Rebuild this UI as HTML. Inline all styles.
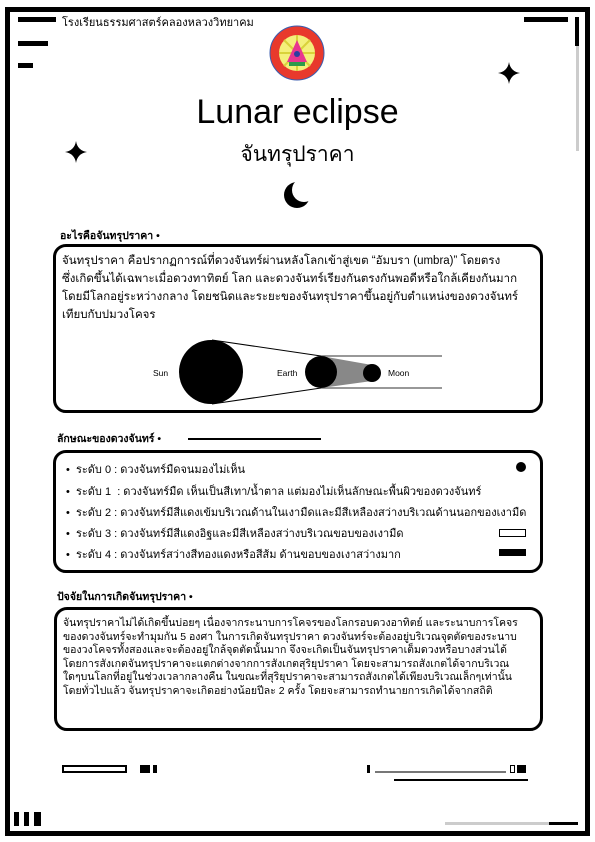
<!DOCTYPE html>
<html><head><meta charset="utf-8">
<style>
html,body{margin:0;padding:0;background:#fff}
body{width:595px;height:842px;position:relative;overflow:hidden;font-family:"Liberation Sans","Noto Sans CJK SC",sans-serif;color:#000}
.a{position:absolute}
.blk{position:absolute;background:#000}
.box{position:absolute;border:3px solid #000;border-radius:13px;box-sizing:border-box}
.t{position:absolute;white-space:nowrap}
.h{position:absolute;white-space:nowrap;font-weight:bold;font-size:10.5px}
.p1{font-size:11.5px;line-height:18px}
.p3{font-size:10.5px;line-height:13.6px}
.li{position:absolute;white-space:nowrap;font-size:11px;left:66px}
</style></head><body>
<div class="a" style="left:5px;top:7px;width:585px;height:829px;border:5px solid #000;box-sizing:border-box"></div>

<div class="blk" style="left:18px;top:17px;width:38px;height:5px"></div>
<div class="blk" style="left:18px;top:41px;width:30px;height:5px"></div>
<div class="blk" style="left:18px;top:63px;width:15px;height:5px"></div>
<div class="t" style="left:62px;top:13px;font-size:11px">โรงเรียนธรรมศาสตร์คลองหลวงวิทยาคม</div>
<div class="blk" style="left:524px;top:17px;width:44px;height:5px"></div>
<div class="a" style="left:576px;top:45px;width:3px;height:106px;background:#ccc"></div>
<div class="blk" style="left:575px;top:17px;width:4px;height:29px"></div>

<svg class="a" style="left:269px;top:25px" width="56" height="56" viewBox="0 0 56 56">
<circle cx="28" cy="28" r="27" fill="#e8392c" stroke="#3a5db0" stroke-width="1"/>
<circle cx="28" cy="28" r="18" fill="#f4f07a"/>
<g stroke="#d9d23a" stroke-width="2"><line x1="28" y1="10" x2="28" y2="46"/><line x1="10" y1="28" x2="46" y2="28"/><line x1="15" y1="15" x2="41" y2="41"/><line x1="41" y1="15" x2="15" y2="41"/></g>
<polygon points="28,15 38,37 18,37" fill="#e8368f"/>
<rect x="20" y="37" width="16" height="4" fill="#2d9a4a"/>
<circle cx="28" cy="29" r="3" fill="#2b3fa0"/>
</svg>

<svg class="a" style="left:498px;top:62px" width="22" height="22" viewBox="0 0 22 22"><path d="M11 0 Q12.5 9.5 22 11 Q12.5 12.5 11 22 Q9.5 12.5 0 11 Q9.5 9.5 11 0Z"/></svg>
<svg class="a" style="left:65px;top:141px" width="22" height="22" viewBox="0 0 22 22"><path d="M11 0 Q12.5 9.5 22 11 Q12.5 12.5 11 22 Q9.5 12.5 0 11 Q9.5 9.5 11 0Z"/></svg>

<div class="t" style="left:0;width:595px;text-align:center;top:93px;font-size:34px">Lunar eclipse</div>
<div class="t" style="left:0;width:595px;text-align:center;top:138px;font-size:21px">จันทรุปราคา</div>
<svg class="a" style="left:283px;top:180px" width="30" height="30" viewBox="0 0 30 30">
<circle cx="14" cy="15" r="13" fill="#000"/>
<circle cx="21" cy="10" r="12" fill="#fff"/>
</svg>

<div class="h" style="left:60px;top:227px">อะไรคือจันทรุปราคา •</div>
<div class="box" style="left:53px;top:244px;width:490px;height:169px"></div>
<div class="t p1" style="left:62px;top:252px">จันทรุปราคา คือปรากฏการณ์ที่ดวงจันทร์ผ่านหลังโลกเข้าสู่เขต “อัมบรา (umbra)” โดยตรง<br>ซึ่งเกิดขึ้นได้เฉพาะเมื่อดวงทาทิตย์ โลก และดวงจันทร์เรียงกันตรงกันพอดีหรือใกล้เคียงกันมาก<br>โดยมีโลกอยู่ระหว่างกลาง โดยชนิดและระยะของจันทรุปราคาขึ้นอยู่กับตำแหน่งของดวงจันทร์<br>เทียบกับปมวงโคจร</div>

<svg class="a" style="left:140px;top:335px" width="310" height="75" viewBox="0 0 310 75">
<line x1="181" y1="21" x2="302" y2="21" stroke="#777" stroke-width="1.5"/>
<line x1="181" y1="53" x2="302" y2="53" stroke="#777" stroke-width="1.5"/>
<polygon points="181,21 232,30 232,46 181,53" fill="#888"/>
<line x1="72" y1="5" x2="181" y2="21" stroke="#000" stroke-width="1"/>
<line x1="72" y1="69" x2="181" y2="53" stroke="#000" stroke-width="1"/>
<circle cx="71" cy="37" r="32"/>
<circle cx="181" cy="37" r="16"/>
<circle cx="232" cy="38" r="9"/>
<text x="13" y="41" font-size="8.5" font-family="Liberation Sans">Sun</text>
<text x="137" y="41" font-size="8.5" font-family="Liberation Sans">Earth</text>
<text x="248" y="41" font-size="8.5" font-family="Liberation Sans">Moon</text>
</svg>

<div class="h" style="left:57px;top:430px">ลักษณะของดวงจันทร์ •</div>
<div class="blk" style="left:188px;top:438px;width:133px;height:2px"></div>
<div class="box" style="left:53px;top:450px;width:490px;height:123px"></div>
<div class="li" style="top:460px">•&nbsp; ระดับ 0 : ดวงจันทร์มืดจนมองไม่เห็น</div>
<div class="li" style="top:482px">•&nbsp; ระดับ 1&nbsp; : ดวงจันทร์มืด เห็นเป็นสีเทา/น้ำตาล แต่มองไม่เห็นลักษณะพื้นผิวของดวงจันทร์</div>
<div class="li" style="top:503px">•&nbsp; ระดับ 2 : ดวงจันทร์มีสีแดงเข้มบริเวณด้านในเงามืดและมีสีเหลืองสว่างบริเวณด้านนอกของเงามืด</div>
<div class="li" style="top:524px">•&nbsp; ระดับ 3 : ดวงจันทร์มีสีแดงอิฐและมีสีเหลืองสว่างบริเวณขอบของเงามืด</div>
<div class="li" style="top:545px">•&nbsp; ระดับ 4 : ดวงจันทร์สว่างสีทองแดงหรือสีส้ม ด้านขอบของเงาสว่างมาก</div>
<div class="a" style="left:516px;top:462px;width:10px;height:10px;border-radius:50%;background:#000"></div>
<div class="a" style="left:499px;top:529px;width:27px;height:8px;border:1.5px solid #000;box-sizing:border-box"></div>
<div class="blk" style="left:499px;top:549px;width:27px;height:7px"></div>

<div class="h" style="left:57px;top:588px">ปัจจัยในการเกิดจันทรุปราคา •</div>
<div class="box" style="left:54px;top:607px;width:489px;height:124px"></div>
<div class="t p3" style="left:63px;top:617px">จันทรุปราคาไม่ได้เกิดขึ้นบ่อยๆ เนื่องจากระนาบการโคจรของโลกรอบดวงอาทิตย์ และระนาบการโคจร<br>ของดวงจันทร์จะทำมุมกัน 5 องศา ในการเกิดจันทรุปราคา ดวงจันทร์จะต้องอยู่บริเวณจุดตัดของระนาบ<br>ของวงโคจรทั้งสองและจะต้องอยู่ใกล้จุดตัดนั้นมาก จึงจะเกิดเป็นจันทรุปราคาเต็มดวงหรือบางส่วนได้<br>โดยการสังเกตจันทรุปราคาจะแตกต่างจากการสังเกตสุริยุปราคา โดยจะสามารถสังเกตได้จากบริเวณ<br>ใดๆบนโลกที่อยู่ในช่วงเวลากลางคืน ในขณะที่สุริยุปราคาจะสามารถสังเกตได้เพียงบริเวณเล็กๆเท่านั้น<br>โดยทั่วไปแล้ว จันทรุปราคาจะเกิดอย่างน้อยปีละ 2 ครั้ง โดยจะสามารถทำนายการเกิดได้จากสถิติ</div>

<div class="a" style="left:62px;top:765px;width:65px;height:8px;border:2px solid #000;box-sizing:border-box"></div>
<div class="blk" style="left:140px;top:765px;width:10px;height:8px"></div>
<div class="blk" style="left:153px;top:765px;width:4px;height:8px"></div>
<div class="blk" style="left:367px;top:765px;width:3px;height:8px"></div>
<div class="a" style="left:375px;top:771px;width:131px;height:2px;background:#777"></div>
<div class="a" style="left:510px;top:765px;width:5px;height:8px;border:1.5px solid #000;box-sizing:border-box"></div>
<div class="blk" style="left:517px;top:765px;width:9px;height:8px"></div>
<div class="blk" style="left:394px;top:779px;width:134px;height:2px"></div>

<div class="blk" style="left:14px;top:812px;width:5px;height:14px"></div>
<div class="blk" style="left:24px;top:812px;width:5px;height:14px"></div>
<div class="blk" style="left:34px;top:812px;width:7px;height:14px"></div>
<div class="a" style="left:445px;top:822px;width:104px;height:3px;background:#ccc"></div>
<div class="blk" style="left:549px;top:822px;width:29px;height:3px"></div>
</body></html>
